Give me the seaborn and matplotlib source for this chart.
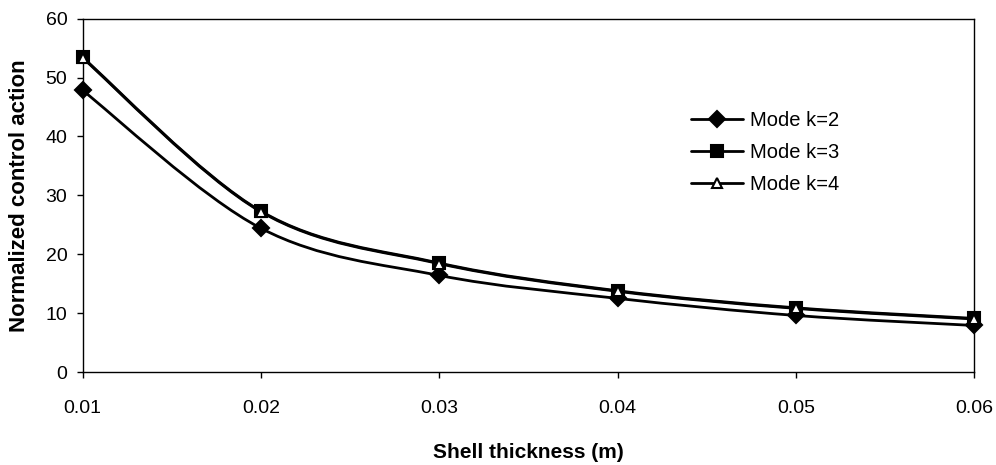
import numpy as np
import pandas as pd
import seaborn as sns
import matplotlib.pyplot as plt
from matplotlib.path import Path
from matplotlib.patches import PathPatch
from matplotlib.lines import Line2D

# data
thickness = [0.01, 0.02, 0.03, 0.04, 0.05, 0.06]
tick_labels = ["0.01", "0.02", "0.03", "0.04", "0.05", "0.06"]
mode_k2 = [47.8, 24.4, 16.4, 12.5, 9.6, 7.9]
mode_k3 = [53.4, 27.3, 18.5, 13.8, 10.9, 9.1]
mode_k4 = [53.3, 27.2, 18.4, 13.7, 10.8, 9.0]
series_names = ["Mode k=2", "Mode k=3", "Mode k=4"]


def smooth_path(x, y):
    """Excel-like smoothed line as cubic Bezier segments (Catmull-Rom)"""
    pts = np.column_stack([x, y])
    verts = [pts[0]]
    codes = [Path.MOVETO]
    n = len(pts)
    for i in range(n - 1):
        p0 = pts[max(i - 1, 0)]
        p1 = pts[i]
        p2 = pts[i + 1]
        p3 = pts[min(i + 2, n - 1)]
        c1 = p1 + (p2 - p0) / 6.0
        c2 = p2 - (p3 - p1) / 6.0
        verts += [c1, c2, p2]
        codes += [Path.CURVE4] * 3
    return Path(verts, codes)


sns.set_theme(style="white", rc={'text.color': 'black', 'axes.labelcolor': 'black',
                                 'xtick.color': 'black', 'ytick.color': 'black'})
plt.rcParams['font.family'] = ['Liberation Sans', 'DejaVu Sans']

df = pd.DataFrame({
    "thickness": thickness * 3,
    "value": mode_k2 + mode_k3 + mode_k4,
    "series": [series_names[0]] * 6 + [series_names[1]] * 6 + [series_names[2]] * 6,
})

fig, ax = plt.subplots(figsize=(9.96, 4.65), dpi=100)

# smoothed curves
for vals in [mode_k2, mode_k3, mode_k4]:
    ax.add_patch(PathPatch(smooth_path(thickness, vals), facecolor='none',
                           edgecolor='black', lw=2.0, zorder=2))

# markers
markers = {"Mode k=2": "D", "Mode k=3": "s", "Mode k=4": "^"}
faces = {"Mode k=2": "black", "Mode k=3": "black", "Mode k=4": "white"}
sizes = {"Mode k=2": 8, "Mode k=3": 9, "Mode k=4": 7}
for name in series_names:
    sub = df[df["series"] == name]
    sns.lineplot(data=sub, x="thickness", y="value", ax=ax, linestyle='',
                 marker=markers[name], markersize=sizes[name],
                 markerfacecolor=faces[name], markeredgecolor='black',
                 markeredgewidth=1.5, color='black', clip_on=False, zorder=3,
                 legend=False)

ax.set_xlim(0.01, 0.06)
ax.set_ylim(0, 60)
ax.set_xticks(thickness)
ax.set_xticklabels(tick_labels)
ax.set_yticks(range(0, 61, 10))

for s in ax.spines.values():
    s.set_color('black')
    s.set_linewidth(1.0)

ax.tick_params(axis='both', direction='out', length=4, width=1, color='black',
               labelcolor='black', labelsize=14, bottom=True, left=True)
ax.tick_params(axis='x', pad=16)
ax.tick_params(axis='y', pad=7)
ax.set_xlabel('Shell thickness (m)', fontsize=15, fontweight='bold', color='black')
ax.set_ylabel('Normalized control action', fontsize=16, fontweight='bold', color='black')
ax.xaxis.set_label_coords(0.5, -0.229)
ax.xaxis.label.set_va('center')
ax.yaxis.set_label_coords(-0.0706, 0.5)
ax.yaxis.label.set_va('center')

handles = [Line2D([0], [0], color='black', lw=2, marker=markers[n],
                  markersize=sizes[n], markerfacecolor=faces[n],
                  markeredgecolor='black', markeredgewidth=1.5)
           for n in series_names]
leg = ax.legend(handles, series_names, loc='center left', bbox_to_anchor=(0.682, 0.62),
                frameon=False, fontsize=14.5, handlelength=2.6, handletextpad=0.35,
                labelspacing=0.65, borderpad=0, borderaxespad=0)
for t in leg.get_texts():
    t.set_color('black')

fig.subplots_adjust(left=0.083, right=0.978, top=0.96, bottom=0.2)
plt.savefig('out.png', dpi=100)
